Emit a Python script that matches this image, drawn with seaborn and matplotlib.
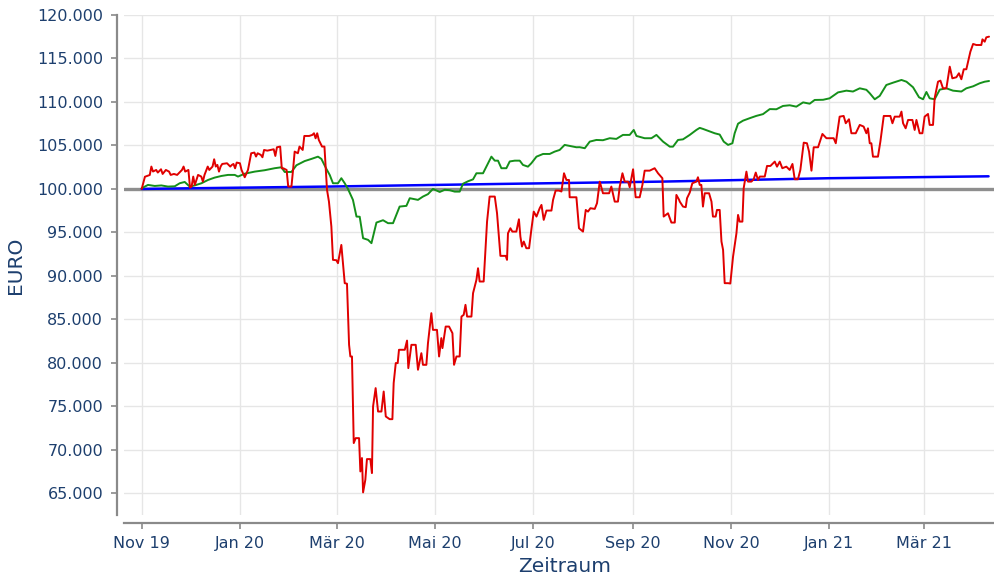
import numpy as np
import pandas as pd
import matplotlib
matplotlib.use("Agg")
import matplotlib.pyplot as plt
import matplotlib.dates as mdates
from matplotlib.ticker import FuncFormatter, MultipleLocator
import seaborn as sns

# Tage seit dem 01.11.2019 und Depotwert in EURO
start = pd.Timestamp("2019-11-01")

red_day = [0, 2, 5, 6, 7, 9, 10, 12, 13, 15, 17, 18, 20, 22, 25, 26, 27, 29, 30, 31,
           32, 33, 35, 37, 38, 39, 41, 42, 44, 45, 46, 47, 48, 49, 50, 53, 55, 56, 57, 58,
           59, 61, 62, 64, 66, 68, 70, 71, 72, 74, 75, 76, 78, 80, 82, 83, 84, 86, 87, 88,
           90, 91, 93, 94, 95, 97, 98, 100, 101, 104, 106, 107, 108, 109, 110, 112, 113.5, 114.5,
           115.1, 116.3, 117.8, 118.8, 120.9, 121.9, 124.0, 125.0, 126.1, 127.5, 128.8, 129.6,
           130.6, 131.7, 132.9, 135.0, 135.8, 136.8, 137.5, 138.9, 139.9, 142.0, 143.0, 143.7,
           145.3, 146.8, 148.9, 150.3, 151.6, 154.0, 155.7, 156.5, 157.8, 159.0, 159.8, 163.4,
           164.8, 165.6, 167.5, 170.2, 171.6, 173.7, 174.7, 176.8, 177.8, 179.9, 180.9, 183.4,
           184.7, 186.1, 186.8, 188.8, 190.9, 193.0, 194.0, 195.5, 197.5, 198.6, 200.0, 201.1,
           202.1, 204.8, 205.8, 207.9, 208.9, 209.9, 212.4, 214.5, 216.1, 219.3, 220.7, 222.8,
           226.1, 226.9, 227.5, 229.0, 230.2, 232.7, 234.3, 235.2, 236.2, 237.3, 238.9, 240.6,
           242.0, 243.5, 245.2, 247.2, 248.3, 249.7, 251.4, 254.5, 255.5, 257.1, 259.2, 260.7,
           262.3, 263.8, 265.4, 265.8, 270.0, 271.6, 274.1, 275.8, 277.2, 278.7, 281.4, 282.8,
           284.5, 286.5, 290.3, 291.7, 293.8, 295.8, 296.9, 298.6, 300.0, 302.1, 303.1, 305.2,
           306.8, 309.3, 311.0, 312.4, 315.5, 318.6, 320.7, 323.4, 324.2, 326.9, 329.0, 331.1,
           332.1, 333.8, 334.2, 336.2, 337.9, 338.7, 340.4, 342.0, 344.5, 345.5, 346.6, 347.6,
           348.6, 349.7, 352.4, 353.9, 354.8, 356.5, 357.3, 359.0, 360.1, 361.1, 362.1, 364.2,
           365.6, 367.3, 369.4, 370.4, 371.4, 373.1, 373.9, 375.6, 376.6, 378.7, 380.1, 381.4,
           382.8, 383.9, 387.0, 388.4, 390.5, 393.2, 394.6, 396.3, 397.9, 400.4, 402.5, 404.2,
           405.6, 407.6, 409.1, 411.2, 413.2, 414.5, 416.0, 417.4, 420.1, 422.8, 425.3, 429.8,
           431.1, 433.5, 436.0, 437.3, 439.3, 440.8, 443.5, 446.0, 448.4, 450.1, 451.1, 452.2,
           453.2, 454.2, 457.3, 458.8, 460.9, 465.0, 466.3, 467.7, 470.8, 471.9, 472.9, 474.5,
           476.0, 478.7, 480.1, 481.2, 483.2, 484.9, 486.3, 488.4, 489.4, 491.5, 492.5, 494.6,
           496.1, 497.7, 499.8, 501.9, 503.5, 506.0, 507.6, 509.1, 510.6, 512.2, 514.7, 516.4,
           518.4, 521.5, 522.2, 523.6, 524.6, 526.3]
red_eur = [100000, 101400, 101600, 102570, 102000, 102180, 101880, 102260, 101720, 102180,
           101990, 101610, 101720, 101610, 102180, 102570, 101990, 102180, 100150, 100270,
           101420, 100460, 101610, 101420, 100840, 101610, 102570, 102180, 102570, 103410,
           102570, 102760, 101990, 102570, 102870, 102950, 102570, 102760, 102870, 102370,
           103030, 102950, 102180, 101340, 102180, 104100, 104180, 103720, 104100, 103910,
           103640, 104480, 104400, 104480, 104560, 103790, 104790, 104870, 102370, 102370,
           102180, 100270, 100270, 102180, 104290, 104100, 104870, 104480, 106090, 106090,
           106210, 106400, 105820, 106400, 105630, 104870, 104870, 101800,
           99890, 98540, 95670, 91840, 91800, 91460, 93560, 91460, 89160, 89100, 82070, 80730,
           80730, 70770, 71340, 71340, 67510, 69050, 65100, 66550, 68930, 68930, 67320, 74980,
           77090, 74400, 74400, 76700, 73830, 73520, 73520, 77670, 79970, 79970, 81500, 81500,
           82560, 79390, 82070, 82070, 79200, 81110, 79770, 79770, 82260, 85710, 83790, 83790,
           80730, 82840, 81690, 84170, 84170, 83410, 79770, 80730, 80730, 85320, 85520, 86670,
           85320, 85320, 88010, 89540, 90880, 89350, 89350, 96240, 99120, 99120, 97200, 92300,
           92300, 91840, 94900, 95480, 95090, 95090, 96510, 94520, 93370, 93950, 93180, 93180,
           95290, 97390, 96820, 97780, 98160, 96440, 97510, 97510, 98740, 99810, 99810, 99700,
           101800, 101030, 101030, 99040, 99040, 95480, 95090, 97580, 97390, 97780, 97700, 98360,
           100840, 99500, 99500, 100270, 98540, 98540, 100270, 101800, 100840, 100840, 100190, 102260,
           99040, 99040, 100460, 102100, 102100, 102380, 101800, 101230, 96820, 97200, 96130, 96130,
           99310, 98740, 98540, 97970, 97900, 98930, 99580, 100650, 100840, 101340, 100460, 100460,
           97970, 99500, 99500, 98540, 96820, 96820, 97580, 97580, 93950, 92990, 89160, 89160,
           89120, 92220, 94900, 97010, 96240, 96240, 100080, 101990, 100840, 100840, 101110, 101880,
           101030, 101420, 101420, 102640, 102640, 103140, 102560, 103140, 102380, 102560, 102180, 102870,
           101110, 101110, 102180, 105320, 105250, 104290, 102100, 104790, 104790, 106320, 105830, 105830,
           105250, 108310, 108390, 107550, 108010, 106400, 106400, 107360, 107170, 106400, 106970, 105250,
           105250, 103710, 103710, 105440, 108390, 108390, 107550, 108310, 108310, 108890, 107550, 106970,
           107930, 107930, 106780, 107930, 106400, 106400, 108310, 108620, 107360, 107360, 110420, 112330,
           112450, 111570, 111570, 114060, 112720, 112840, 113300, 112610, 113760, 113760, 115780, 116670,
           116550, 116550, 117200, 116930, 117430, 117510]

green_day = [0, 3.9, 8.1, 12.2, 16.3, 20.5, 23.6, 26.7, 29.8, 32.9, 37.1, 41.2, 45.3, 49.5,
             53.6, 57.8, 59.8, 64.0, 70.2, 76.4, 82.6, 86.8, 88.8, 93.0, 96.1, 101.2, 105.4,
             109.5, 111.6, 114.7, 116.8, 118.8, 121.9, 124.0, 126.1, 128.1, 131.2, 133.4, 135.4,
             137.5, 140.6, 142.7, 145.8, 149.9, 153.0, 156.1, 160.2, 164.4, 166.5, 171.6, 174.7,
             177.8, 180.9, 185.1, 188.2, 191.3, 194.4, 197.5, 199.6, 202.7, 205.8, 207.9, 212.0,
             215.1, 217.2, 219.3, 221.3, 223.4, 226.5, 228.6, 231.7, 234.8, 236.8, 239.9, 242.0,
             245.2, 249.3, 253.4, 256.5, 259.6, 262.7, 265.8, 270.0, 272.0, 275.2, 278.3, 282.4,
             286.5, 290.7, 294.8, 298.9, 303.1, 305.6, 307.3, 312.4, 316.6, 319.7, 323.8, 328.0,
             330.0, 333.1, 336.2, 340.4, 344.5, 346.6, 348.6, 352.8, 355.9, 359.0, 361.5, 364.2,
             366.9, 368.3, 370.4, 373.5, 377.6, 381.8, 385.9, 390.1, 394.2, 398.3, 402.5, 406.6,
             410.8, 414.9, 418.0, 423.2, 427.3, 432.5, 437.7, 441.8, 446.0, 450.1, 452.2, 455.3,
             458.4, 462.5, 466.7, 471.9, 475.0, 479.1, 482.8, 485.3, 487.4, 489.4, 492.5, 495.7,
             499.8, 503.9, 509.1, 512.2, 516.4, 520.5, 523.6, 526.3]
green_eur = [100080, 100460, 100340, 100400, 100270, 100300, 100650, 100800, 100270, 100400,
             100650, 101030, 101300, 101490, 101610, 101610, 101420, 101750, 101990, 102150,
             102380, 102490, 101950, 101950, 102720, 103200, 103450, 103710, 103450, 102300,
             101600, 100650, 100650, 101230, 100650, 100000, 98740, 96820, 96800, 94330, 94140,
             93760, 96130, 96400, 96060, 96060, 97970, 98050, 98930, 98740, 99120, 99400, 100000,
             99650, 99900, 99850, 99690, 99690, 100600, 100880, 101100, 101800, 101800, 102950,
             103710, 103250, 103250, 102380, 102380, 103160, 103250, 103250, 102760, 102560,
             102950, 103710, 104020, 104020, 104290, 104480, 105060, 104950, 104790, 104800,
             104680, 105440, 105630, 105600, 105830, 105750, 106210, 106210, 106780, 106090,
             105830, 105830, 106210, 105440, 104860, 104860, 105630, 105700, 106210, 106780,
             107020, 106900, 106610, 106400, 106250, 105440, 105060, 105250, 106400, 107500,
             107850, 108130, 108400, 108600, 109180, 109160, 109540, 109620, 109460, 109950,
             109800, 110230, 110250, 110420, 111100, 111300, 111200, 111570, 111400, 111000,
             110310, 110700, 111950, 112220, 112530, 112330, 111690, 110540, 110310, 111150,
             110420, 110310, 111420, 111570, 111300, 111200, 111570, 111800, 112150, 112330, 112410]

blue_day = [0, 116, 222, 323, 427, 526]
blue_eur = [100000, 100270, 100570, 100840, 101230, 101450]

basis = 100000

monate = {1: "Jan", 2: "Feb", 3: "Mär", 4: "Apr", 5: "Mai", 6: "Jun",
          7: "Jul", 8: "Aug", 9: "Sep", 10: "Okt", 11: "Nov", 12: "Dez"}

def to_dates(days):
    return start + pd.to_timedelta(np.array(days, dtype=float), unit="D")

red = pd.DataFrame({"Datum": to_dates(red_day), "EURO": red_eur})
green = pd.DataFrame({"Datum": to_dates(green_day), "EURO": green_eur})
blue = pd.DataFrame({"Datum": to_dates(blue_day), "EURO": blue_eur})

sns.set_theme(style="whitegrid")
plt.rcParams["font.family"] = ["DejaVu Sans"]
textfarbe = "#1d3f6e"

fig = plt.figure(figsize=(9.95, 5.82), dpi=100)
ax = fig.add_axes([124 / 995, 1 - 515 / 582, 871 / 995, 500 / 582])

ax.axhline(basis, color="#8e8e8e", lw=2.4, zorder=1)
sns.lineplot(data=blue, x="Datum", y="EURO", ax=ax, color="#0000ff", lw=1.8,
             estimator=None, sort=False, zorder=3)
sns.lineplot(data=green, x="Datum", y="EURO", ax=ax, color="#15901a", lw=1.4,
             estimator=None, sort=False, zorder=4)
sns.lineplot(data=red, x="Datum", y="EURO", ax=ax, color="#e00000", lw=1.4,
             estimator=None, sort=False, zorder=5)

ax.set_xlim(pd.Timestamp("2019-10-21"), pd.Timestamp("2021-04-14"))
ax.set_ylim(62500, 120000)

ax.yaxis.set_major_locator(MultipleLocator(5000))
ax.yaxis.set_major_formatter(FuncFormatter(lambda v, p: f"{v:,.0f}".replace(",", ".")))
ax.xaxis.set_major_locator(mdates.MonthLocator(bymonth=[1, 3, 5, 7, 9, 11]))
ax.xaxis.set_major_formatter(FuncFormatter(
    lambda v, p: f"{monate[mdates.num2date(v).month]} {mdates.num2date(v):%y}"))

ax.grid(True, color="#e6e6e6", lw=1)
sns.despine(ax=ax, offset={"left": 5, "bottom": 6})
for s in ["left", "bottom"]:
    ax.spines[s].set_color("#8a8a8a")
    ax.spines[s].set_linewidth(1.6)
ax.tick_params(axis="both", which="major", length=4, width=1.2, color="#8a8a8a",
               labelcolor=textfarbe, labelsize=11.5, direction="out",
               bottom=True, left=True)
ax.tick_params(axis="y", pad=6)
ax.tick_params(axis="x", pad=5)

ax.set_xlabel("Zeitraum", fontsize=14.5, color=textfarbe)
ax.set_ylabel("EURO", fontsize=14.5, color=textfarbe)
ax.xaxis.set_label_coords(0.506, -0.084)
ax.yaxis.set_label_coords(-0.114, 0.5)

fig.savefig("out.png", dpi=100)
